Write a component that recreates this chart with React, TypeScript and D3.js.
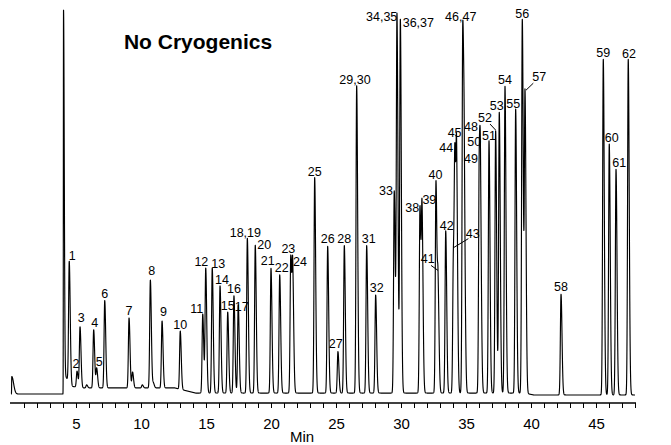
import React, { useEffect, useRef } from 'react';
import * as d3 from 'd3';

// retention time (min) and height above local baseline (% of full scale)
const peakLabels = [
  '1', '2', '3', '4', '5', '6', '7', '8', '9', '10',
  '11', '12', '13', '14', '15', '16', '17', '18,19', '20', '21',
  '22', '23', '24', '25', '26', '27', '28', '29,30', '31', '32',
  '33', '34,35', '36,37', '38', '39', '40', '41', '42', '43', '44',
  '45', '46,47', '48', '49', '50', '51', '52', '53', '54', '55',
  '56', '57', '58', '59', '60', '61', '62',
];
const peakTimes = [
  4.48, 5.08, 5.31, 6.36, 6.59, 7.21, 9.08, 10.72, 11.62, 13.02,
  14.75, 14.98, 15.48, 16.08, 16.67, 17.15, 17.48, 18.18, 18.79, 20.0,
  20.67, 21.52, 21.67, 23.36, 24.36, 25.15, 25.64, 26.59, 27.36, 28.05,
  29.48, 29.69, 29.95, 31.46, 31.62, 32.69, 32.85, 33.44, 34.03, 34.15,
  34.28, 34.75, 34.87, 36.12, 36.02, 36.77, 37.28, 37.56, 38.0, 38.82,
  39.33, 39.54, 42.31, 45.56, 46.02, 46.54, 47.48,
];
const peakHeights = [
  31.8, 4.2, 16, 15.3, 5.3, 23, 18.4, 28.4, 17.6, 15.3,
  20.8, 32.9, 32.9, 28.2, 21.3, 25.6, 23.2, 40.7, 38.9, 32.8,
  31.1, 36.3, 35.4, 56.7, 38.6, 10.9, 38.8, 80.9, 38.8, 25.8,
  53.2, 100, 98.4, 49.3, 50.6, 55.9, 32, 42.7, 38, 65.5,
  66.1, 97.6, 69, 61.6, 65, 66.4, 69, 73.9, 80.7, 74.7,
  98.4, 80, 26.5, 88.3, 66, 59.4, 88.3,
];

// small unlabelled shoulders
const minorTimes = [5.82, 9.35, 10.1, 10.95];
const minorHeights = [0.8, 4.2, 0.8, 1.5];

const solvent = { time: 4.04, height: 100 };
const injection = { time: 0.06, height: 4.6 };

const baselineTimes = [0, 4.02, 4.12, 4.7, 5.5, 12.6, 14.2, 39.5, 40.2, 48];
const baselineLevels = [0, 0, 5, 2, 1.6, 1.6, 0.25, 0.25, -0.25, -0.25];

const tickLabels = [5, 10, 15, 20, 25, 30, 35, 40, 45];

// label placement relative to the peak apex: [dx, dy to text baseline]
const labelNudge: Record<string, [number, number]> = {
  '1': [3, -1], '2': [-1, -3], '3': [1.3, -5], '4': [1, -3], '5': [2.5, -2],
  '6': [0, -3], '7': [0, -3], '8': [1.4, -5], '9': [1.3, -5], '10': [0, -2],
  '11': [-6, -1], '12': [-4.4, -2], '13': [6, 0], '14': [2, -2], '15': [0, -2],
  '16': [0, -3], '17': [3.5, 6], '18,19': [-2, -1], '20': [9, 4], '21': [-3.3, -3],
  '22': [2, -3], '23': [-2.4, -2], '24': [7.3, 7], '25': [0, -2], '26': [0, -3],
  '27': [-2.3, -4], '28': [0, -3], '29,30': [-1.7, -2], '31': [2, -3], '32': [1, -3],
  '33': [-8.3, 4], '34,35': [-15.3, 7.5], '36,37': [18, 8], '38': [-7.7, 6],
  '39': [7.3, 3.3], '40': [-0.5, -2], '42': [1, -1], '44': [-8.8, 7.5],
  '45': [-2, -4.5], '46,47': [-2, -1], '48': [6.7, 0], '49': [-9.5, 4],
  '50': [-5, 0], '51': [0, -1], '53': [-2.6, -2], '54': [0, -2], '55': [-2.4, -1],
  '56': [0, -1], '58': [0, -3], '59': [0, -2], '60': [2.4, -2], '61': [3.3, -2],
  '62': [0.7, -1],
};

// labels with a leader line: text offset, line start, line end (all from apex)
const leaderNudge: Record<string, { text: [number, number]; from: [number, number]; to: [number, number] }> = {
  '41': { text: [-10.3, -8], from: [-7, -6], to: [0, -1] },
  '43': { text: [19.3, -10.6], from: [15, -10], to: [0.6, -1.3] },
  '52': { text: [-10.6, -8.8], from: [-5.6, -6.8], to: [0, -0.8] },
  '57': { text: [14.3, -8], from: [8.3, -6], to: [1, 1] },
};

const SIG_L = 0.05;
const SIG_R = 0.075;

const shape = (t: number, c: number, sl: number, sr: number) => {
  const z = (t - c) / (t < c ? sl : sr);
  return Math.exp(-0.5 * z * z);
};

const App: React.FC = () => {
  const svgRef = useRef<SVGSVGElement>(null);
  const width = 671;
  const height = 445;

  useEffect(() => {
    if (!svgRef.current) return;
    const svg = d3.select(svgRef.current);
    svg.selectAll('*').remove();

    const font = '"Liberation Sans", Arial, Helvetica, sans-serif';
    const narrow = '"Liberation Sans Narrow", "Arial Narrow", "Liberation Sans", sans-serif';
    const x = d3.scaleLinear().domain([0, 48]).range([11, 635]);
    const y = d3.scaleLinear().domain([0, 100]).range([394, 14]);
    const base = d3.scaleLinear().domain(baselineTimes).range(baselineLevels).clamp(true);

    // unmix overlapping peaks so that apex heights match the read values
    const allT = [...peakTimes, ...minorTimes];
    const allH = [...peakHeights, ...minorHeights];
    const amps = allH.slice();
    for (let iter = 0; iter < 100; iter++) {
      for (let i = 0; i < allT.length; i++) {
        let others = 0;
        for (let j = 0; j < allT.length; j++) {
          if (j === i || Math.abs(allT[i] - allT[j]) > 0.7) continue;
          others += amps[j] * shape(allT[i], allT[j], SIG_L, SIG_R);
        }
        amps[i] = Math.max(0, allH[i] - others);
      }
    }

    const signal = (t: number) => {
      let v = base(t);
      v += injection.height * shape(t, injection.time, 0.01, 0.14);
      v += solvent.height * shape(t, solvent.time, 0.012, 0.055);
      for (let j = 0; j < allT.length; j++) {
        if (Math.abs(t - allT[j]) > 0.7) continue;
        v += amps[j] * shape(t, allT[j], SIG_L, SIG_R);
      }
      return v;
    };

    const trace = d3.range(0, 48.0001, 0.004).map((t) => [t, signal(t)] as [number, number]);
    const line = d3
      .line<[number, number]>()
      .x((d) => x(d[0]))
      .y((d) => y(d[1]));

    svg
      .append('path')
      .datum(trace)
      .attr('d', line)
      .attr('fill', 'none')
      .attr('stroke', '#000')
      .attr('stroke-width', 1.15)
      .attr('stroke-linejoin', 'round');

    // x axis
    const axisY = 403;
    const axis = svg
      .append('g')
      .attr('transform', `translate(0,${axisY})`)
      .call(
        d3
          .axisBottom(x)
          .tickValues(d3.range(1, 49))
          .tickSize(5)
          .tickSizeOuter(0)
          .tickPadding(10)
          .tickFormat((d) => (tickLabels.includes(+d) ? String(d) : ''))
      );
    axis.select('.domain').attr('stroke', '#000').attr('stroke-width', 1.4)
      .attr('d', `M${x(0) - 1},0H${x(48) + 1}`);
    axis.selectAll('.tick line').attr('stroke', '#000').attr('stroke-width', 1);
    axis.selectAll('.tick text').attr('font-family', font).attr('font-size', 15).attr('fill', '#000');

    svg
      .append('text')
      .attr('x', 302)
      .attr('y', 442)
      .attr('text-anchor', 'middle')
      .attr('font-family', font)
      .attr('font-size', 15)
      .text('Min');

    svg
      .append('text')
      .attr('x', 198)
      .attr('y', 49)
      .attr('text-anchor', 'middle')
      .attr('font-family', font)
      .attr('font-weight', 'bold')
      .attr('font-size', 21)
      .text('No Cryogenics');

    // peak labels
    const labels = svg.append('g').attr('font-family', narrow).attr('font-size', 12.5).attr('fill', '#000');
    peakLabels.forEach((lab, i) => {
      const px = x(peakTimes[i]);
      const py = y(peakHeights[i] + base(peakTimes[i]));
      const lead = leaderNudge[lab];
      if (lead) {
        labels
          .append('line')
          .attr('x1', px + lead.from[0])
          .attr('y1', py + lead.from[1])
          .attr('x2', px + lead.to[0])
          .attr('y2', py + lead.to[1])
          .attr('stroke', '#000')
          .attr('stroke-width', 1);
        labels
          .append('text')
          .attr('x', px + lead.text[0])
          .attr('y', py + lead.text[1])
          .attr('text-anchor', 'middle')
          .text(lab);
        return;
      }
      const [dx, dy] = labelNudge[lab] || [0, -3];
      labels
        .append('text')
        .attr('x', px + dx)
        .attr('y', py + dy)
        .attr('text-anchor', 'middle')
        .text(lab);
    });
  }, []);

  return (
    <div style={{ position: 'absolute', left: 0, top: 0 }}>
      <svg ref={svgRef} width={width} height={height} style={{ display: 'block', background: '#fff' }} />
    </div>
  );
};

export default App;
